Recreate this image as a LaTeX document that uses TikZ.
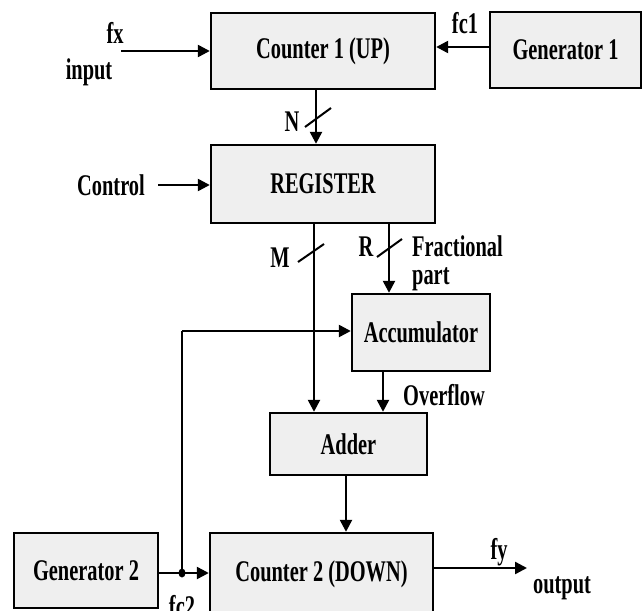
\documentclass[tikz,border=0pt]{standalone}
\usepackage{fontspec}
\setmainfont{Liberation Serif}[FakeStretch=0.68]
\usetikzlibrary{arrows.meta,calc}
\definecolor{boxfill}{HTML}{EFEFEF}
\tikzset{
  blk/.style={draw=black, fill=boxfill, line width=2.4pt, inner sep=0pt, font=\fontsize{30}{30}\selectfont\bfseries},
  lbl/.style={inner sep=0pt, font=\fontsize{30}{30}\selectfont\bfseries},
  wire/.style={line width=2.4pt},
  arr/.style={line width=2.4pt, -{Triangle[length=12pt,width=12pt]}},
  bus/.style={line width=2pt}
}
\begin{document}
\begin{tikzpicture}[x=1pt,y=-1pt]
\useasboundingbox (0,0) rectangle (642,610);
\clip (0,0) rectangle (642,610);
% blocks
\node[blk, minimum width=224pt, minimum height=76pt] (c1) at (323,51) {Counter 1 (UP)};
\node[blk, minimum width=151pt, minimum height=76pt] (g1) at (565.5,50) {Generator 1};
\node[blk, minimum width=224pt, minimum height=78pt] (reg) at (323,184) {REGISTER};
\node[blk, minimum width=138pt, minimum height=77pt] (acc) at (421,332.5) {Accumulator};
\node[blk, minimum width=157pt, minimum height=62pt] (add) at (348.5,444) {Adder};
\node[blk, minimum width=223pt, minimum height=82pt] (c2) at (321.5,574) {Counter 2 (DOWN)};
\node[blk, minimum width=144pt, minimum height=75pt] (g2) at (86,570.5) {Generator 2};
% labels
\node[lbl] (lfx) at (115,33) {fx};
\node[lbl] (lin) at (89,72) {input};
\node[lbl] (lfc1) at (465,23) {fc1};
\node[lbl] (lN) at (292,122) {N};
\node[lbl] (lctl) at (111,185) {Control};
\node[lbl] (lM) at (280,258) {M};
\node[lbl] (lR) at (366,247) {R};
\node[lbl, anchor=west] (lfrac) at (412,246) {Fractional};
\node[lbl, anchor=west] (lpart) at (412,279) {part};
\node[lbl, anchor=west] (lov) at (403,395) {Overflow};
\node[lbl] (lfy) at (499,552) {fy};
\node[lbl] (lout) at (562,588) {output};
\node[lbl] (lfc2) at (182,606) {fc2};
% coordinates
\coordinate (fxs) at (121,51);
\coordinate (ctls) at (158,185);
\coordinate (junc) at (182,573);
\coordinate (fbk) at (182,331);
\coordinate (fye) at (527,568);
% connectors
\draw[arr] (fxs) -- (c1.west |- fxs);
\draw[arr] (g1.west |- 0,47) -- (c1.east |- 0,47);
\draw[arr] (c1.south -| 316,0) -- (reg.north -| 316,0);
\draw[arr] (ctls) -- (reg.west |- ctls);
\draw[arr] (reg.south -| 314,0) -- (add.north -| 314,0);
\draw[arr] (reg.south -| 389,0) -- (acc.north -| 389,0);
\draw[arr] (acc.south -| 383,0) -- (add.north -| 383,0);
\draw[arr] (add.south -| 346,0) -- (c2.north -| 346,0);
\draw[wire] (junc) -- (fbk);
\draw[arr] (fbk) -- (acc.west |- fbk);
\draw[arr] (g2.east |- junc) -- (c2.west |- junc);
\draw[arr] (c2.east |- fye) -- (fye);
\fill (junc) ellipse (3.5pt and 4.5pt);
% bus slashes
\draw[bus] (305,127) -- (331,108);
\draw[bus] (298,262) -- (324,244);
\draw[bus] (377,257) -- (402,239);
\end{tikzpicture}
\end{document}
